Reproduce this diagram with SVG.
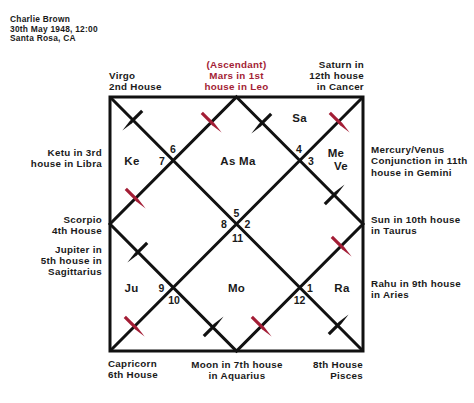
<svg xmlns="http://www.w3.org/2000/svg" width="474" height="403" viewBox="0 0 474 403">
<style>
text{font-family:"Liberation Sans",Arial,sans-serif;font-weight:700;fill:#1a1a1a}
.hd{font-size:8.4px;letter-spacing:0.25px}
.lb{font-size:9.8px;letter-spacing:0.3px}
.red{fill:#a31d35}
.pl{font-size:11.5px;letter-spacing:0.3px}
.nm{font-size:10.5px}
.m{text-anchor:middle}
.e{text-anchor:end}
.ln{stroke:#111;stroke-width:3;fill:none;stroke-linejoin:miter}
.tk{fill:#111}
.tr{fill:#a31d35}
</style>
<defs>
<path id="tick" d="M-13,-1.6 L3,-1.6 L15,0 L3,1.6 L-13,1.6 Z"/>
</defs>
<rect width="474" height="403" fill="#fff"/>
<g id="header">
<text class="hd" x="10" y="22">Charlie Brown<tspan x="10" dy="9.5">30th May 1948, 12:00</tspan><tspan x="10" dy="9.5">Santa Rosa, CA</tspan></text>
</g>
<g id="connectors">
<rect class="ln" x="110" y="97" width="253" height="254"/>
<path class="ln" d="M110,97 L363,351 M363,97 L110,351 M236.5,97 L363,224 L236.5,351 L110,224 Z"/>
<g id="ticks">
<use href="#tick" class="tk" transform="translate(133,120) rotate(135)"/>
<use href="#tick" class="tk" transform="translate(262,123) rotate(135)"/>
<use href="#tick" class="tk" transform="translate(334,195) rotate(-45)"/>
<use href="#tick" class="tk" transform="translate(138,252) rotate(135)"/>
<use href="#tick" class="tk" transform="translate(213,327) rotate(-45)"/>
<use href="#tick" class="tk" transform="translate(338,325) rotate(-45)"/>
<use href="#tick" class="tr" transform="translate(211,122) rotate(45)"/>
<use href="#tick" class="tr" transform="translate(339,122) rotate(45)"/>
<use href="#tick" class="tr" transform="translate(135,198) rotate(45)"/>
<use href="#tick" class="tr" transform="translate(341,246) rotate(45)"/>
<use href="#tick" class="tr" transform="translate(134,326) rotate(45)"/>
<use href="#tick" class="tr" transform="translate(261,326) rotate(45)"/>
</g>
</g>
<g id="house-labels">
<text class="lb" x="109" y="78.5">Virgo<tspan x="109" dy="11">2nd House</tspan></text>
<text class="lb red m" x="236.5" y="67.5">(Ascendant)<tspan x="236.5" dy="11">Mars in 1st</tspan><tspan x="236.5" dy="11">house in Leo</tspan></text>
<text class="lb e" x="364" y="67.5">Saturn in<tspan x="364" dy="11">12th house</tspan><tspan x="364" dy="11">in Cancer</tspan></text>
<text class="lb e" x="102" y="156">Ketu in 3rd<tspan x="102" dy="11">house in Libra</tspan></text>
<text class="lb e" x="102" y="223">Scorpio<tspan x="102" dy="11">4th House</tspan></text>
<text class="lb e" x="102" y="253">Jupiter in<tspan x="102" dy="11">5th house in</tspan><tspan x="102" dy="11">Sagittarius</tspan></text>
<text class="lb" x="371" y="153">Mercury/Venus<tspan x="371" dy="11.3">Conjunction in 11th</tspan><tspan x="371" dy="11.2">house in Gemini</tspan></text>
<text class="lb" x="371" y="222.5">Sun in 10th house<tspan x="371" dy="11">in Taurus</tspan></text>
<text class="lb" x="371" y="286.5">Rahu in 9th house<tspan x="371" dy="11">in Aries</tspan></text>
<text class="lb" x="108" y="367">Capricorn<tspan x="108" dy="11">6th House</tspan></text>
<text class="lb m" x="237" y="368">Moon in 7th house<tspan x="237" dy="11">in Aquarius</tspan></text>
<text class="lb e" x="363" y="368">8th House<tspan x="363" dy="11">Pisces</tspan></text>
</g>
<g id="planets">
<text class="pl m" x="132" y="165">Ke</text>
<text class="pl m" x="238" y="165">As Ma</text>
<text class="pl m" x="299.5" y="121.5">Sa</text>
<text class="pl m" x="336" y="156.5">Me</text>
<text class="pl m" x="341" y="170">Ve</text>
<text class="pl m" x="131.5" y="291.5">Ju</text>
<text class="pl m" x="236.5" y="291.5">Mo</text>
<text class="pl m" x="342" y="291.5">Ra</text>
</g>
<g id="house-numbers">
<text class="nm m" x="173" y="152.5">6</text>
<text class="nm m" x="162" y="165">7</text>
<text class="nm m" x="299" y="153">4</text>
<text class="nm m" x="311" y="165">3</text>
<text class="nm m" x="236.5" y="216.5">5</text>
<text class="nm m" x="224" y="227.5">8</text>
<text class="nm m" x="247.5" y="227.5">2</text>
<text class="nm m" x="237.5" y="241.5">11</text>
<text class="nm m" x="161.5" y="291.5">9</text>
<text class="nm m" x="310" y="291.5">1</text>
<text class="nm m" x="174" y="304">10</text>
<text class="nm m" x="299.5" y="304">12</text>
</g>
</svg>
